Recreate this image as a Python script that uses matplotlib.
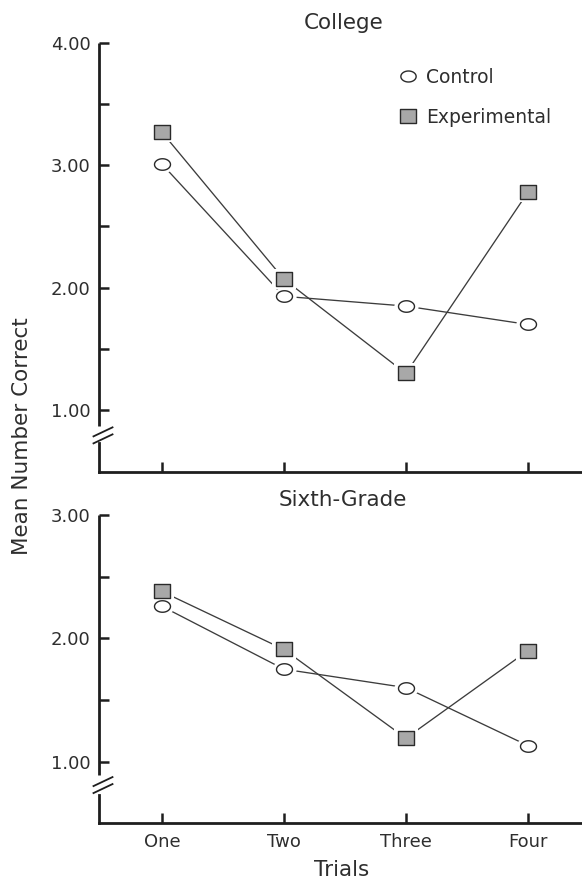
import matplotlib
matplotlib.use("Agg")
import matplotlib.pyplot as plt
import matplotlib.transforms as mtransforms
from matplotlib.path import Path
from matplotlib.lines import Line2D
import numpy as np

plt.rcParams['font.family'] = ['DejaVu Sans']

trials = ["One", "Two", "Three", "Four"]
college_control = [3.01, 1.93, 1.85, 1.70]
college_experimental = [3.27, 2.07, 1.30, 2.78]
sixth_control = [2.26, 1.75, 1.60, 1.13]
sixth_experimental = [2.38, 1.91, 1.19, 1.90]
college_yticks = [1.0, 2.0, 3.0, 4.0]
sixth_yticks = [1.0, 2.0, 3.0]
series_labels = ["Control", "Experimental"]

TEXT = "#2e2e2e"
AXC = "#1e1e1e"
LINEC = "#3c3c3c"
SQFILL = "#a8a8a8"

# ellipse-ish "circle" and slightly wide square markers (the reference is stretched horizontally)
t = np.linspace(0, 2 * np.pi, 60)
ell_path = Path(np.column_stack([np.cos(t), 0.72 * np.sin(t)]), closed=True)
sq_path = Path([(-1, -0.87), (1, -0.87), (1, 0.87), (-1, 0.87), (-1, -0.87)], closed=True)

W, H = 582, 881
fig = plt.figure(figsize=(W / 100, H / 100), dpi=100)

def rect(x0, y0, x1, y1):
    return [x0 / W, 1 - y1 / H, (x1 - x0) / W, (y1 - y0) / H]

ax_top = fig.add_axes(rect(99, 42.7, 582, 471.5))
ax_bot = fig.add_axes(rect(99, 515, 582, 823.3))

x = np.arange(1, len(trials) + 1)

def draw_series(ax, vals, path, ms, face):
    ax.plot(x, vals, color=LINEC, lw=0.95, zorder=1, clip_on=False)
    ax.plot(x, vals, linestyle="none", marker=path, ms=ms + 6, mfc="white",
            mec="white", mew=0, zorder=2, clip_on=False)
    ax.plot(x, vals, linestyle="none", marker=path, ms=ms, mfc=face,
            mec="#2a2a2a", mew=1.0, zorder=3, clip_on=False)

def style_axis(ax, ylim, yticks, ybreak_top, ybreak_bot, ybreak_c, show_xlabels):
    ax.set_xlim(0.485, 4.443)
    ax.set_ylim(*ylim)
    ax.spines["top"].set_visible(False)
    ax.spines["right"].set_visible(False)
    ax.spines["left"].set_visible(False)
    ax.spines["bottom"].set_linewidth(2.0)
    ax.spines["bottom"].set_color(AXC)
    ax.set_yticks(yticks)
    ax.set_yticklabels(["%.2f" % v for v in yticks])
    ax.set_yticks([v + 0.5 for v in yticks[:-1]], minor=True)
    ax.set_xticks(x)
    if show_xlabels:
        ax.set_xticklabels(trials)
    else:
        ax.set_xticklabels([])
    ax.tick_params(axis="both", which="both", direction="in", length=7.5, width=1.8,
                   color=AXC, labelsize=13, labelcolor=TEXT)
    ax.tick_params(axis="y", pad=6)
    ax.tick_params(axis="x", pad=7)
    bt = mtransforms.blended_transform_factory(ax.transAxes, ax.transData)
    ax.plot([0, 0], [ybreak_top, ylim[1]], color=AXC, lw=2.0, transform=bt,
            clip_on=False, solid_capstyle="butt", zorder=5)
    ax.plot([0, 0], [ylim[0], ybreak_bot], color=AXC, lw=2.0, transform=bt,
            clip_on=False, solid_capstyle="projecting", zorder=5)
    # break marks (in pixel offsets)
    px, py = ax.transData.transform((ax.get_xlim()[0], ybreak_c))
    for off in (3.5, -3.5):
        cx, cy = px + 4, py + off
        ln = Line2D([cx - 9.5, cx + 9.5], [cy - 4.5, cy + 4.5], color=AXC, lw=1.3,
                    transform=mtransforms.IdentityTransform(), clip_on=False)
        fig.add_artist(ln)

style_axis(ax_top, (0.5, 4.0), college_yticks, 0.875, 0.73, 0.795, False)
style_axis(ax_bot, (0.5, 3.0), sixth_yticks, 0.89, 0.73, 0.81, True)

for ax, ctrl, expm in ((ax_top, college_control, college_experimental),
                       (ax_bot, sixth_control, sixth_experimental)):
    draw_series(ax, ctrl, ell_path, 11.5, "white")
    draw_series(ax, expm, sq_path, 11.2, SQFILL)

handles = [
    Line2D([], [], linestyle="none", marker=ell_path, ms=11.0, mfc="white", mec="#2a2a2a", mew=1.0),
    Line2D([], [], linestyle="none", marker=sq_path, ms=11.0, mfc=SQFILL, mec="#2a2a2a", mew=1.0),
]
leg = ax_top.legend(handles, series_labels, loc="upper left",
                    bbox_to_anchor=(400 / W, 1 - 68 / H), bbox_transform=fig.transFigure,
                    frameon=False, fontsize=13.5, handlelength=0.8, handletextpad=0.6,
                    labelspacing=1.12, borderpad=0, borderaxespad=0)
for txt in leg.get_texts():
    txt.set_color(TEXT)

fig.text(344 / W, 1 - 23 / H, "College", ha="center", va="center", fontsize=15.5, color=TEXT)
fig.text(343 / W, 1 - 500 / H, "Sixth-Grade", ha="center", va="center", fontsize=15.5, color=TEXT)
fig.text(342 / W, 1 - 870 / H, "Trials", ha="center", va="center", fontsize=15.5, color=TEXT)
fig.text(22 / W, 1 - 436 / H, "Mean Number Correct", ha="center", va="center",
         rotation=90, fontsize=15.5, color=TEXT)

fig.savefig("out.png", dpi=100)
